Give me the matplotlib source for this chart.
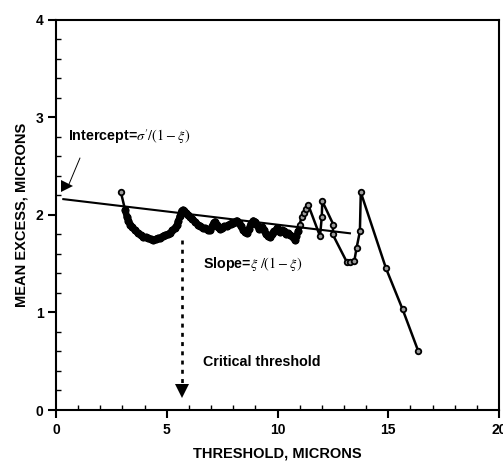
import matplotlib
matplotlib.use("Agg")
import matplotlib.pyplot as plt
from matplotlib.ticker import MultipleLocator

plt.rcParams['font.family'] = ['Liberation Sans', 'DejaVu Sans']
plt.rcParams['mathtext.fontset'] = 'stix'

# Mean excess data (threshold, mean excess)
threshold = [2.93, 3.12, 3.20, 3.27, 3.35, 3.45, 3.57, 3.70, 3.82, 3.94,
             4.05, 4.15, 4.27, 4.39, 4.50, 4.60, 4.70, 4.82, 4.93, 5.05,
             5.15, 5.25, 5.35, 5.45, 5.53, 5.60, 5.67, 5.73, 5.80, 5.88,
             5.96, 6.05, 6.15, 6.28, 6.40, 6.52, 6.63, 6.73, 6.85, 6.95,
             7.05, 7.12, 7.18, 7.25, 7.32, 7.40, 7.50, 7.60, 7.70, 7.78,
             7.88, 7.98, 8.08, 8.16, 8.25, 8.35, 8.46, 8.55, 8.61, 8.70,
             8.80, 8.91, 8.98, 9.08, 9.18, 9.29, 9.38, 9.48, 9.58, 9.66,
             9.75, 9.82, 9.89, 9.98, 10.05, 10.12, 10.19, 10.28, 10.38, 10.49,
             10.58, 10.68, 10.79, 10.85, 10.94, 11.00, 11.09, 11.20, 11.30, 11.39,
             11.92, 12.00, 12.02, 12.52, 12.49, 13.12, 13.27, 13.47, 13.57, 13.72,
             13.76, 14.90, 15.65, 16.36]
mean_excess = [2.23, 2.05, 1.98, 1.94, 1.90, 1.87, 1.84, 1.81, 1.79, 1.77,
               1.77, 1.76, 1.75, 1.74, 1.75, 1.76, 1.76, 1.78, 1.79, 1.80,
               1.81, 1.84, 1.86, 1.89, 1.94, 1.99, 2.04, 2.05, 2.04, 2.02,
               2.00, 1.98, 1.96, 1.93, 1.90, 1.88, 1.86, 1.86, 1.84, 1.84,
               1.88, 1.92, 1.93, 1.90, 1.87, 1.85, 1.86, 1.88, 1.88, 1.89,
               1.91, 1.92, 1.93, 1.94, 1.92, 1.88, 1.84, 1.82, 1.81, 1.85,
               1.91, 1.94, 1.93, 1.89, 1.85, 1.87, 1.84, 1.80, 1.78, 1.77,
               1.80, 1.83, 1.83, 1.86, 1.84, 1.82, 1.84, 1.83, 1.80, 1.81,
               1.79, 1.77, 1.74, 1.78, 1.83, 1.90, 1.98, 2.02, 2.06, 2.10,
               1.78, 1.98, 2.14, 1.90, 1.80, 1.52, 1.52, 1.53, 1.66, 1.83,
               2.23, 1.45, 1.03, 0.60]

# The densely sampled stretch (from the 2nd point to x ~ 10.9) draws as a solid band
dense_start = 1
dense_end = 85

# Fitted straight line (endpoints)
fit_x = [0.33, 13.27]
fit_y = [2.16, 1.81]

# Critical threshold arrow
crit_x = [5.67, 5.67]
crit_y = [1.74, 0.26]
crit_tip = (5.67, 0.19)

# Intercept pointer
int_line_x = [1.08, 0.58]
int_line_y = [2.58, 2.31]
int_head = (0.50, 2.29)

x_ticks = [0, 5, 10, 15, 20]
y_ticks = [0, 1, 2, 3, 4]

fig = plt.figure(figsize=(5.03, 4.62), dpi=100)
ax = fig.add_axes([56/503, 1 - 410/462, (499-56)/503, (410-19.5)/462])

ax.plot(threshold, mean_excess, color='black', lw=1.8, marker='o', ms=4.0,
        mfc='#9a9a9a', mec='black', mew=1.3, zorder=3)
ax.plot(threshold[dense_start:dense_end], mean_excess[dense_start:dense_end],
        color='black', lw=4.8, solid_capstyle='round', solid_joinstyle='round',
        marker='o', ms=4.8, mfc='black', mec='black', zorder=3.5)
ax.plot(fit_x, fit_y, color='black', lw=1.5, zorder=4)

ax.plot(crit_x, crit_y, color='black', lw=1.9, linestyle=(0, (1.5, 2.0)))
ax.plot([crit_tip[0]], [crit_tip[1]], marker='v', color='black', ms=10, mew=0)

ax.plot(int_line_x, int_line_y, color='black', lw=0.7)
ax.plot([int_head[0]], [int_head[1]], marker='>', color='black', ms=8, mew=0)

ax.text(0.55, 2.80, r"Intercept=$\sigma'/(1-\xi)$", fontsize=10.3, fontweight='bold',
        ha='left', va='center')
ax.text(6.64, 1.50, r"Slope=$\xi\ /(1-\xi)$", fontsize=10.3, fontweight='bold',
        ha='left', va='center')
ax.text(6.64, 0.49, "Critical threshold", fontsize=10.3, fontweight='bold',
        ha='left', va='center')

ax.set_xlim(0, 20)
ax.set_ylim(0, 4)
ax.set_xticks(x_ticks)
ax.set_yticks(y_ticks)
ax.xaxis.set_minor_locator(MultipleLocator(1))
ax.yaxis.set_minor_locator(MultipleLocator(0.2))
ax.tick_params(which='major', direction='out', length=6, width=1.5,
               labelsize=10, pad=3)
ax.tick_params(which='minor', direction='in', length=3.5, width=1.0)
for lab in ax.get_xticklabels() + ax.get_yticklabels():
    lab.set_fontweight('bold')
for s in ax.spines.values():
    s.set_linewidth(1.5)

ax.set_xlabel("THRESHOLD, MICRONS", fontsize=10.5, fontweight='bold', labelpad=7)
ax.set_ylabel("MEAN EXCESS, MICRONS", fontsize=10.5, fontweight='bold', labelpad=5)

fig.savefig("out.png", dpi=100)
